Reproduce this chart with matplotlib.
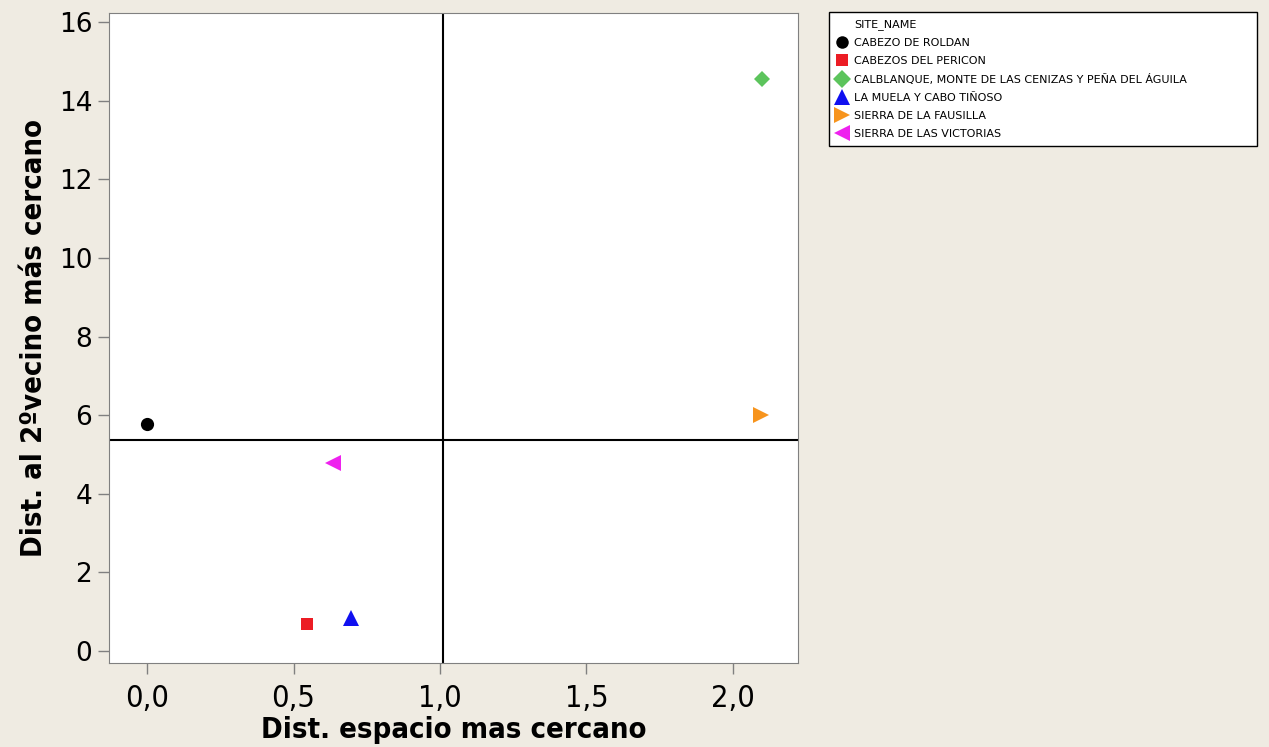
import matplotlib
matplotlib.use("Agg")
import matplotlib.pyplot as plt
from matplotlib.lines import Line2D
from matplotlib.ticker import FuncFormatter

# data
site_names = [
    "CABEZO DE ROLDAN",
    "CABEZOS DEL PERICON",
    "CALBLANQUE, MONTE DE LAS CENIZAS Y PEÑA DEL ÁGUILA",
    "LA MUELA Y CABO TIÑOSO",
    "SIERRA DE LA FAUSILLA",
    "SIERRA DE LAS VICTORIAS",
]
dist_espacio = [0.0, 0.546, 2.099, 0.696, 2.096, 0.635]
dist_vecino2 = [5.78, 0.69, 14.55, 0.84, 6.0, 4.78]
ref_x = 1.01
ref_y = 5.37
x_ticks = [0.0, 0.5, 1.0, 1.5, 2.0]
y_ticks = [0, 2, 4, 6, 8, 10, 12, 14, 16]

markers = ["o", "s", "D", "^", ">", "<"]
colors = ["#000000", "#ec1c24", "#5cc45c", "#1010f0", "#f7941d", "#ee22ee"]
sizes = [9.5, 8, 8, 11, 11, 11]

bg = "#efebe2"
fig = plt.figure(figsize=(12.69, 7.47), dpi=100, facecolor=bg)
ax = fig.add_axes([109 / 1269, 1 - 663 / 747, (798 - 109) / 1269, (663 - 13) / 747])
ax.set_facecolor("white")

for x, y, m, c, s in zip(dist_espacio, dist_vecino2, markers, colors, sizes):
    ax.plot([x], [y], linestyle="none", marker=m, color=c, markersize=s, markeredgewidth=0)

ax.axvline(ref_x, color="black", lw=1.5)
ax.axhline(ref_y, color="black", lw=1.5)

ax.set_xlim(-0.13, 2.222)
ax.set_ylim(-0.305, 16.23)
ax.set_xticks(x_ticks)
ax.set_yticks(y_ticks)
ax.xaxis.set_major_formatter(FuncFormatter(lambda v, p: f"{v:.1f}".replace(".", ",")))

for sp in ax.spines.values():
    sp.set_color("#808080")
ax.tick_params(axis="both", direction="out", length=8, width=1, color="#808080")
ax.tick_params(axis="x", pad=7)
ax.tick_params(axis="y", pad=4)
for lab in ax.get_xticklabels():
    lab.set_fontsize(22)
    lab.set_fontstretch("condensed")
for lab in ax.get_yticklabels():
    lab.set_fontsize(19)

ax.set_xlabel("Dist. espacio mas cercano", fontsize=21, fontweight="bold",
              fontstretch="condensed", labelpad=2)
ax.set_ylabel("Dist. al 2ºvecino más cercano", fontsize=21, fontweight="bold",
              fontstretch="condensed", labelpad=8)

# legend with the variable name as first (marker-less) row
handles = [Line2D([], [], linestyle="none", marker="")]
labels = ["SITE_NAME"]
for name, m, c in zip(site_names, markers, colors):
    handles.append(Line2D([], [], linestyle="none", marker=m, color=c,
                          markersize=9 if m in "osD" else 11, markeredgewidth=0))
    labels.append(name)

leg_top = 1 - 12 / 747
leg = fig.legend(handles, labels, loc="upper left",
                 bbox_to_anchor=(829 / 1269, leg_top - 0.01, (1257 - 829) / 1269, 0.01),
                 mode="expand", borderaxespad=0, fontsize=8, labelspacing=0.72,
                 handlelength=1.0, handletextpad=0.6, borderpad=0.65,
                 frameon=True, fancybox=False, edgecolor="black", framealpha=1)
leg.get_frame().set_linewidth(1)

fig.savefig("out.png", dpi=100, facecolor=bg)
